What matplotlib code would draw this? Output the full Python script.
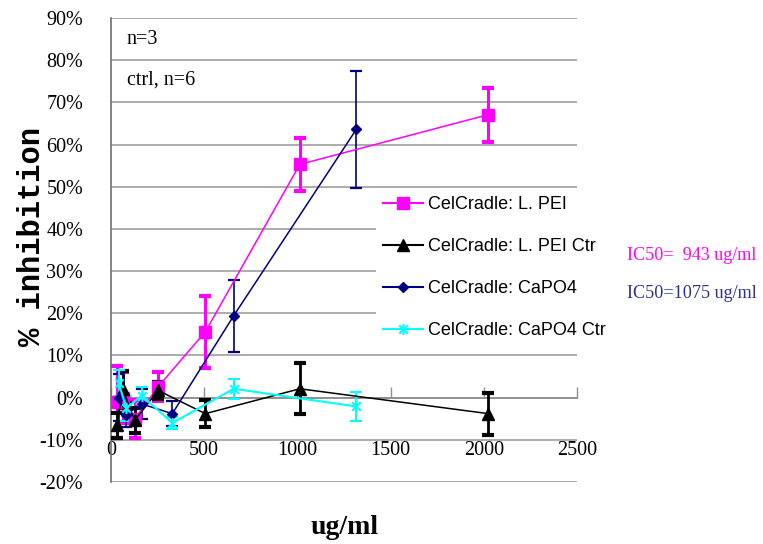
import matplotlib
matplotlib.use("Agg")
import matplotlib.pyplot as plt
from matplotlib.lines import Line2D
from matplotlib.path import Path
from matplotlib.ticker import FuncFormatter

# ---- data (percent inhibition) ----
conc_pei = [32, 63, 127, 253, 506, 1013, 2025]
pei = [-1.0, 0.0, -5.0, 2.6, 15.6, 55.3, 67.1]
pei_err = [8.5, 6.0, 4.5, 3.5, 8.5, 6.2, 6.4]

pei_ctr = [-6.6, 2.0, -5.4, 1.7, -3.8, 2.1, -3.8]
pei_ctr_err = [3.0, 4.4, 3.0, 2.0, 3.2, 6.0, 5.0]

conc_capo = [41, 82, 165, 329, 658, 1316]
capo = [0.0, -4.0, -1.5, -3.8, 19.4, 63.6]
capo_err = [5.5, 3.0, 3.5, 3.0, 8.5, 13.8]

capo_ctr = [3.5, -2.5, 0.5, -6.0, 2.1, -2.1]
capo_ctr_err = [3.0, 3.0, 2.0, 1.5, 2.4, 3.4]

labels = ["CelCradle: L. PEI", "CelCradle: L. PEI Ctr",
          "CelCradle: CaPO4", "CelCradle: CaPO4 Ctr"]
x_ticks = [0, 500, 1000, 1500, 2000, 2500]
y_ticks = list(range(-20, 91, 10))

plt.rcParams['font.family'] = ['Liberation Serif', 'DejaVu Serif']

W, H = 763, 544
fig = plt.figure(figsize=(W / 100, H / 100), dpi=100)
ax = fig.add_axes([111 / W, 62 / H, 466 / W, 464 / H])

star = Path([(-1, -1), (1, 1), (-1, 1), (1, -1), (0, -1.3), (0, 1.3)],
            [Path.MOVETO, Path.LINETO, Path.MOVETO, Path.LINETO,
             Path.MOVETO, Path.LINETO])

ax.errorbar(conc_pei, pei, yerr=pei_err, color='#FF00FF', lw=1.1,
            marker='s', ms=9, elinewidth=2.2, capsize=4.5, capthick=3,
            zorder=3)
ax.errorbar(conc_pei, pei_ctr, yerr=pei_ctr_err, color='black', lw=1.1,
            marker='^', ms=9, elinewidth=2.0, capsize=4.5, capthick=3,
            zorder=3)
ax.errorbar(conc_capo, capo, yerr=capo_err, color='#000080', lw=1.1,
            marker='D', ms=5, elinewidth=1.2, capsize=4.5, capthick=1.6,
            zorder=3)
ax.errorbar(conc_capo, capo_ctr, yerr=capo_ctr_err, color='#00FFFF', lw=1.5,
            marker=star, ms=8, mfc='none', mec='#00FFFF', mew=1.5,
            elinewidth=1.5, capsize=4, capthick=1.8, zorder=3)

ax.set_xlim(0, 2500)
ax.set_ylim(-20, 90)
ax.set_xticks(x_ticks)
ax.set_yticks(y_ticks)
ax.yaxis.set_major_formatter(FuncFormatter(lambda v, p: f"{int(v)}%"))

ax.grid(axis='y', color='#a6a6a6', lw=1.3, zorder=0)
ax.set_axisbelow(True)
for s in ['top', 'right']:
    ax.spines[s].set_visible(False)
ax.spines['left'].set_color('#707070')
ax.spines['left'].set_linewidth(1.2)
ax.spines['bottom'].set_position(('data', 0))
ax.spines['bottom'].set_color('#909090')
ax.spines['bottom'].set_linewidth(1.3)

ax.tick_params(axis='x', direction='in', length=8, width=1, color='#909090',
               pad=31.5, labelsize=14.5)
ax.tick_params(axis='y', length=0, pad=20, labelsize=14.5)

ax.text(0.034, 0.953, "n=3", transform=ax.transAxes, fontsize=14.5,
        va='center', ha='left')
ax.text(0.034, 0.866, "ctrl, n=6", transform=ax.transAxes, fontsize=14.5,
        va='center', ha='left')

fig.text(345 / W, 1 - 527 / H, "ug/ml", fontsize=20, fontweight='bold',
         ha='center', va='center')
fig.text(32 / W, 1 - 236 / H, "% inhibition", fontsize=22, fontweight='bold',
         family='Liberation Mono', rotation=90, ha='center', va='center')

fig.text(627 / W, 1 - 255 / H, "IC50=  943 ug/ml", fontsize=13.1,
         color='#FF00FF', ha='left', va='center')
fig.text(627 / W, 1 - 294 / H, "IC50=1075 ug/ml", fontsize=13.1,
         color='#2E3192', ha='left', va='center')

handles = [
    Line2D([], [], color='#FF00FF', lw=1.5, marker='s', ms=9),
    Line2D([], [], color='black', lw=1.5, marker='^', ms=9),
    Line2D([], [], color='#000080', lw=1.5, marker='D', ms=5),
    Line2D([], [], color='#00FFFF', lw=1.5, marker=star, ms=8, mfc='none',
           mew=1.5),
]
leg = fig.legend(handles, labels, loc='center left',
                 bbox_to_anchor=(376 / W, 1 - 267.5 / H),
                 prop={'family': 'Liberation Sans', 'size': 13},
                 frameon=True, facecolor='white', edgecolor='none',
                 framealpha=1, fancybox=False, handlelength=2.2,
                 handletextpad=0.3, labelspacing=1.38, borderpad=0.4,
                 borderaxespad=0)

fig.savefig("out.png", dpi=100)
